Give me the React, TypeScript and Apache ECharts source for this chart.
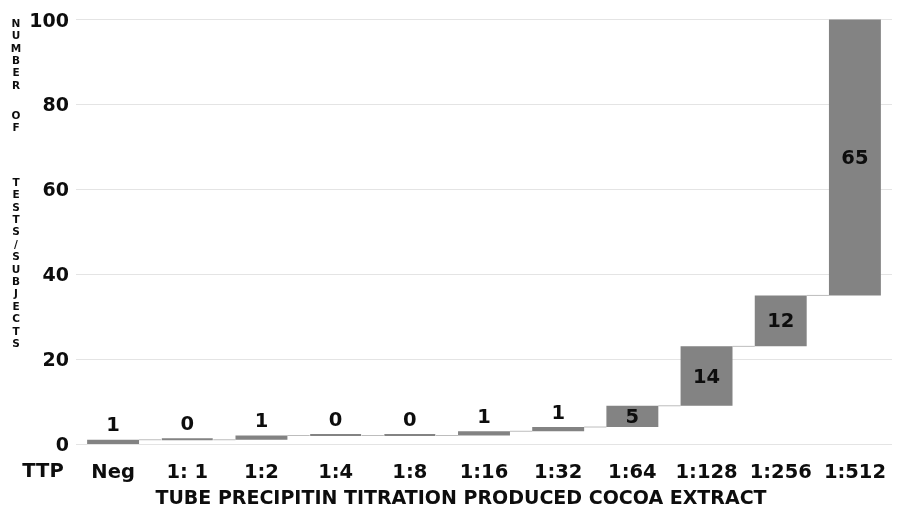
import React, { useEffect, useRef } from "react";
import * as echarts from "echarts";

// Titration steps and how many tests/subjects fall into each one
const categories = ["Neg", "1: 1", "1:2", "1:4", "1:8", "1:16", "1:32", "1:64", "1:128", "1:256", "1:512"];
const counts = [1, 0, 1, 0, 0, 1, 1, 5, 14, 12, 65];
// Counts large enough to carry their label inside the bar
const insideLabelMin = 5;

const yMin = 0;
const yMax = 100;
const yStep = 20;

const xTitle = "TUBE PRECIPITIN TITRATION PRODUCED COCOA EXTRACT";
const rowLabel = "TTP";
const yTitleWords = ["NUMBER", "OF", "TESTS/SUBJECTS"];

const FONT = "'DejaVu Sans', Verdana, sans-serif";
const BAR = "#838383";
const INK = "#0d0d0d";

export default function App() {
  const ref = useRef<HTMLDivElement>(null);

  useEffect(() => {
    if (!ref.current) return;
    const chart = echarts.init(ref.current, undefined, { renderer: "svg" });

    // running totals: each bar floats on the sum of everything before it
    const bases: number[] = [];
    const levels: number[] = [];
    let run = 0;
    counts.forEach((c) => {
      bases.push(run);
      run += c;
      levels.push(run);
    });

    const connectorData = levels.slice(0, -1).map((v, i) => [i, v]);

    // vertical stacked-letter title, one word group at a time
    const letterStep = 12.4;
    const wordTops = [22.7, 115, 181.7];
    const yTitleGraphics = yTitleWords.map((w, gi) => ({
      type: "text",
      x: 16,
      y: wordTops[gi] - letterStep / 2,
      style: {
        text: w.split("").join("\n"),
        font: `700 10.5px ${FONT}`,
        fill: INK,
        align: "center",
        verticalAlign: "top",
        lineHeight: letterStep,
      },
    }));

    chart.setOption({
      animation: false,
      grid: { left: 76, right: 10, top: 19.5, bottom: 62, containLabel: false },
      xAxis: {
        type: "category",
        data: categories,
        axisLine: { show: false },
        axisTick: { show: false },
        axisLabel: {
          margin: 17,
          color: INK,
          fontFamily: FONT,
          fontWeight: 700,
          fontSize: 19.5,
          interval: 0,
        },
      },
      yAxis: {
        type: "value",
        min: yMin,
        max: yMax,
        interval: yStep,
        axisLine: { show: false },
        axisTick: { show: false },
        splitLine: { lineStyle: { color: "#e4e4e4", width: 1 } },
        axisLabel: {
          margin: 7,
          color: INK,
          fontFamily: FONT,
          fontWeight: 700,
          fontSize: 19,
        },
      },
      series: [
        {
          type: "bar",
          stack: "fall",
          data: bases,
          barWidth: "70%",
          itemStyle: { color: "transparent" },
          emphasis: { disabled: true },
          silent: true,
        },
        {
          type: "bar",
          stack: "fall",
          barWidth: "70%",
          barMinHeight: 1,
          data: counts.map((c) => ({
            value: c,
            label: { position: c >= insideLabelMin ? "inside" : "top" },
          })),
          itemStyle: { color: BAR, borderColor: BAR, borderWidth: 2 },
          label: {
            show: true,
            color: INK,
            fontFamily: FONT,
            fontWeight: 700,
            fontSize: 19.5,
            distance: 5,
          },
        },
        {
          type: "custom",
          data: connectorData,
          silent: true,
          z: 1,
          renderItem: (params: any, api: any) => {
            const i = api.value(0);
            const v = api.value(1);
            const a = api.coord([i, v]);
            const b = api.coord([i + 1, v]);
            const half = api.size([1, 0])[0] * 0.35;
            return {
              type: "line",
              shape: { x1: a[0] + half, y1: a[1], x2: b[0] - half, y2: b[1] },
              style: { stroke: "#bdbdbd", lineWidth: 1 },
            };
          },
        },
      ],
      graphic: [
        {
          type: "text",
          x: 43,
          y: 470,
          style: {
            text: rowLabel,
            font: `700 19.5px ${FONT}`,
            fill: INK,
            align: "center",
            verticalAlign: "middle",
          },
        },
        {
          type: "text",
          x: 461,
          y: 496.5,
          style: {
            text: xTitle,
            font: `700 19px ${FONT}`,
            fill: INK,
            align: "center",
            verticalAlign: "middle",
          },
        },
        ...yTitleGraphics,
      ],
    });

    return () => chart.dispose();
  }, []);

  return (
    <div
      ref={ref}
      style={{ position: "fixed", left: 0, top: 0, width: 902, height: 506 }}
    />
  );
}
